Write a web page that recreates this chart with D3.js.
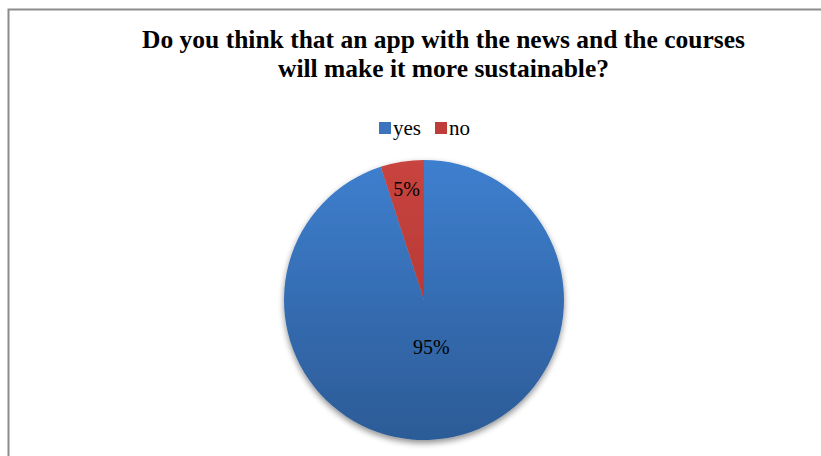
<!DOCTYPE html>
<html>
<head>
<meta charset="utf-8">
<script src="https://cdn.jsdelivr.net/npm/d3@7"></script>
<style>
  body { margin: 0; background: #fff; }
  text { font-family: "Liberation Serif", "Times New Roman", serif; }
</style>
</head>
<body>
<svg class="chart" width="821" height="456"></svg>
<script>
// answers and their shares
var categories = ["yes", "no"];
var values = [95, 5];
var labels = ["95%", "5%"];

var svg = d3.select(".chart");

// frame round the chart area (runs off the right and bottom of the picture)
svg.append("rect")
    .attr("x", 8.5).attr("y", 9.5)
    .attr("width", 830).attr("height", 470)
    .attr("fill", "#fff")
    .attr("stroke", "#8c8c8c")
    .attr("stroke-width", 2);

var defs = svg.append("defs");

var grads = [
    { id: "g-yes", top: "#3e7fcf", bottom: "#2c5b96" },
    { id: "g-no", top: "#c8443f", bottom: "#a8302c" }
];
grads.forEach(function (g) {
    var lg = defs.append("linearGradient")
        .attr("id", g.id)
        .attr("gradientUnits", "userSpaceOnUse")
        .attr("x1", 0).attr("y1", -140).attr("x2", 0).attr("y2", 140);
    lg.append("stop").attr("offset", "0%").attr("stop-color", g.top);
    lg.append("stop").attr("offset", "100%").attr("stop-color", g.bottom);
});

var shadow = defs.append("filter").attr("id", "shadow")
    .attr("x", "-20%").attr("y", "-20%").attr("width", "140%").attr("height", "140%");
shadow.append("feGaussianBlur").attr("in", "SourceAlpha").attr("stdDeviation", 3);
shadow.append("feOffset").attr("dx", 0).attr("dy", 3).attr("result", "blur");
shadow.append("feComponentTransfer").append("feFuncA").attr("type", "linear").attr("slope", 0.45);
var merge = shadow.append("feMerge");
merge.append("feMergeNode");
merge.append("feMergeNode").attr("in", "SourceGraphic");

// title
var title = svg.append("text")
    .attr("text-anchor", "middle")
    .attr("font-size", "25.5px")
    .attr("font-weight", "bold")
    .attr("fill", "#000");
title.append("tspan").attr("x", 443.5).attr("y", 48)
    .text("Do you think that an app with the news and the courses");
title.append("tspan").attr("x", 443.5).attr("y", 77)
    .text("will make it more sustainable?");

// legend
var colors = d3.scaleOrdinal().domain(categories).range(["url(#g-yes)", "url(#g-no)"]);
var legendSolid = d3.scaleOrdinal().domain(categories).range(["#3b74bd", "#be3d38"]);
var legendX = d3.scalePoint().domain(categories).range([379, 435]);

var legend = svg.append("g");
legend.selectAll("rect")
    .data(categories)
    .enter().append("rect")
    .attr("x", function (d) { return legendX(d); })
    .attr("y", 122)
    .attr("width", 12).attr("height", 12)
    .attr("fill", function (d) { return legendSolid(d); });
legend.selectAll("text")
    .data(categories)
    .enter().append("text")
    .attr("x", function (d) { return legendX(d) + 14; })
    .attr("y", 135)
    .attr("font-size", "21px")
    .attr("fill", "#000")
    .text(function (d) { return d; });

// pie
var radius = 140;
var g = svg.append("g").attr("transform", "translate(424,300)");

var data = categories.map(function (c, i) { return { name: c, value: values[i], label: labels[i] }; });
var pie = d3.pie().sort(null).value(function (d) { return d.value; });
var arc = d3.arc().innerRadius(0).outerRadius(radius);
var arcs = pie(data);

g.append("g")
    .attr("filter", "url(#shadow)")
    .selectAll("path")
    .data(arcs)
    .enter().append("path")
    .attr("d", arc)
    .attr("fill", function (d) { return colors(d.data.name); });

var labelArc = {
    yes: d3.arc().innerRadius(radius * 0.34).outerRadius(radius * 0.34),
    no: d3.arc().innerRadius(radius * 0.8).outerRadius(radius * 0.8)
};
g.selectAll(".lbl")
    .data(arcs)
    .enter().append("text")
    .attr("class", "lbl")
    .attr("text-anchor", "middle")
    .attr("dy", "0.35em")
    .attr("font-size", "20px")
    .attr("fill", "#000")
    .attr("transform", function (d) { return "translate(" + labelArc[d.data.name].centroid(d) + ")"; })
    .text(function (d) { return d.data.label; });
</script>
</body>
</html>
